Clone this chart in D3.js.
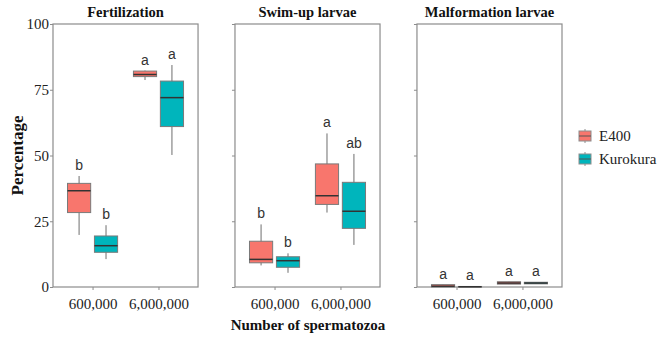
<!DOCTYPE html>
<html>
<head>
<meta charset="utf-8">
<script src="https://cdn.jsdelivr.net/npm/d3@7"></script>
<style>
  body { margin: 0; background: #fff; }
  svg { display: block; }
</style>
</head>
<body>
<div id="chart"></div>
<script>
// panels, groups and tick labels
var panels = ["Fertilization", "Swim-up larvae", "Malformation larvae"];
var doses = ["600,000", "6,000,000"];
var strains = ["E400", "Kurokura"];
var yTicks = [0, 25, 50, 75, 100];

// box stats per panel: [low whisker, q1, median, q3, high whisker], one row per dose
var fertE400 = [[19.8, 28.3, 36.6, 39.4, 42.2], [78.7, 80.0, 80.8, 82.1, 82.3]];
var fertKuro = [[10.6, 13.2, 15.7, 19.4, 23.5], [50.2, 61.0, 72.0, 78.3, 84.4]];
var swimE400 = [[8.2, 9.2, 10.5, 17.4, 23.8], [28.3, 31.4, 34.7, 46.8, 58.4]];
var swimKuro = [[5.4, 7.5, 10.0, 11.5, 12.8], [16.0, 22.3, 28.8, 39.8, 50.6]];
var malfE400 = [[0, 0, 0.3, 0.9, 0.9], [1.1, 1.1, 1.5, 2.0, 2.0]];
var malfKuro = [[0, 0, 0.1, 0.2, 0.2], [1.2, 1.2, 1.5, 1.8, 1.8]];

// significance letters, [dose][strain]
var fertLetters = [["b", "b"], ["a", "a"]];
var swimLetters = [["b", "b"], ["a", "ab"]];
var malfLetters = [["a", "a"], ["a", "a"]];

var colors = {"E400": "#F8766D", "Kurokura": "#00B5BC"};

var width = 660, height = 339;
var svg = d3.select("#chart").append("svg")
  .attr("width", width)
  .attr("height", height);

var panelData = [
  {title: panels[0], stats: [fertE400, fertKuro], letters: fertLetters},
  {title: panels[1], stats: [swimE400, swimKuro], letters: swimLetters},
  {title: panels[2], stats: [malfE400, malfKuro], letters: malfLetters}
];

// panel placement
var panelScale = d3.scaleBand()
  .domain(panels)
  .range([53, 562])
  .paddingInner(0.203);
var pw = panelScale.bandwidth();

var yScale = d3.scaleLinear().domain([0, 100]).range([287, 24]);

var xScale = d3.scalePoint()
  .domain(doses)
  .range([0, pw])
  .padding(0.6);
var step = xScale.step();

var dodge = d3.scaleBand()
  .domain(strains)
  .range([-0.38 * step, 0.38 * step])
  .paddingInner(0.14);
var bw = dodge.bandwidth();

var serif = "'Liberation Serif', 'DejaVu Serif', serif";
var sans = "'Liberation Sans', Arial, sans-serif";

panelData.forEach(function(p, pi) {
  var g = svg.append("g")
    .attr("transform", "translate(" + panelScale(p.title) + ",0)");

  // frame
  g.append("rect")
    .attr("x", 0)
    .attr("y", yScale(100))
    .attr("width", pw)
    .attr("height", yScale(0) - yScale(100))
    .attr("fill", "none")
    .attr("stroke", "#8c8c8c")
    .attr("stroke-width", 1.2);

  // y axis (labels only on first panel)
  var yAxis = d3.axisLeft(yScale)
    .tickValues(yTicks)
    .tickSize(3)
    .tickFormat(pi === 0 ? d3.format("d") : "");
  var ya = g.append("g").call(yAxis);
  ya.select(".domain").remove();
  ya.selectAll(".tick line").attr("stroke", "#8c8c8c");
  ya.selectAll(".tick text")
    .attr("font-family", serif)
    .attr("font-size", 15)
    .attr("fill", "#222")
    .attr("x", -4);

  // x axis
  var xAxis = d3.axisBottom(xScale).tickSize(3).tickPadding(8);
  var xa = g.append("g")
    .attr("transform", "translate(0," + yScale(0) + ")")
    .call(xAxis);
  xa.select(".domain").remove();
  xa.selectAll(".tick line").attr("stroke", "#8c8c8c");
  xa.selectAll(".tick text")
    .attr("font-family", serif)
    .attr("font-size", 15)
    .attr("fill", "#222");

  // title
  g.append("text")
    .attr("x", pw / 2)
    .attr("y", 17)
    .attr("text-anchor", "middle")
    .attr("font-family", serif)
    .attr("font-weight", "bold")
    .attr("font-size", 14.5)
    .attr("fill", "#111")
    .text(p.title);

  // boxes
  strains.forEach(function(s, si) {
    doses.forEach(function(d, di) {
      var st = p.stats[si][di];
      var cx = xScale(d) + dodge(s) + bw / 2;
      var bx = g.append("g");
      bx.append("line")
        .attr("x1", cx).attr("x2", cx)
        .attr("y1", yScale(st[0])).attr("y2", yScale(st[4]))
        .attr("stroke", "#6e6e6e")
        .attr("stroke-width", 1);
      bx.append("rect")
        .attr("x", cx - bw / 2)
        .attr("y", yScale(st[3]))
        .attr("width", bw)
        .attr("height", Math.max(yScale(st[1]) - yScale(st[3]), 0.5))
        .attr("fill", colors[s])
        .attr("stroke", "#7a7a7a")
        .attr("stroke-width", 1);
      bx.append("line")
        .attr("x1", cx - bw / 2).attr("x2", cx + bw / 2)
        .attr("y1", yScale(st[2])).attr("y2", yScale(st[2]))
        .attr("stroke", "#333")
        .attr("stroke-width", 1.5);
      g.append("text")
        .attr("x", cx)
        .attr("y", yScale(st[4]) - 6)
        .attr("text-anchor", "middle")
        .attr("font-family", sans)
        .attr("font-size", 14)
        .attr("fill", "#333")
        .text(p.letters[di][si]);
    });
  });
});

// axis titles
svg.append("text")
  .attr("transform", "translate(23," + yScale(50) + ") rotate(-90)")
  .attr("text-anchor", "middle")
  .attr("font-family", serif)
  .attr("font-weight", "bold")
  .attr("font-size", 17)
  .attr("fill", "#111")
  .text("Percentage");

svg.append("text")
  .attr("x", 308)
  .attr("y", 330)
  .attr("text-anchor", "middle")
  .attr("font-family", serif)
  .attr("font-weight", "bold")
  .attr("font-size", 15)
  .attr("fill", "#111")
  .text("Number of spermatozoa");

// legend
var legend = svg.append("g").attr("transform", "translate(579,136)");
strains.forEach(function(s, i) {
  var lg = legend.append("g").attr("transform", "translate(0," + i * 23 + ")");
  lg.append("line")
    .attr("x1", 6).attr("x2", 6)
    .attr("y1", -7).attr("y2", 7)
    .attr("stroke", "#8c8c8c");
  lg.append("rect")
    .attr("x", 0).attr("y", -5)
    .attr("width", 12).attr("height", 10)
    .attr("fill", colors[s])
    .attr("stroke", "#8c8c8c");
  lg.append("line")
    .attr("x1", 0).attr("x2", 12)
    .attr("y1", 0).attr("y2", 0)
    .attr("stroke", "#555");
  lg.append("text")
    .attr("x", 20)
    .attr("y", 5)
    .attr("font-family", serif)
    .attr("font-size", 15)
    .attr("fill", "#222")
    .text(s);
});
</script>
</body>
</html>
